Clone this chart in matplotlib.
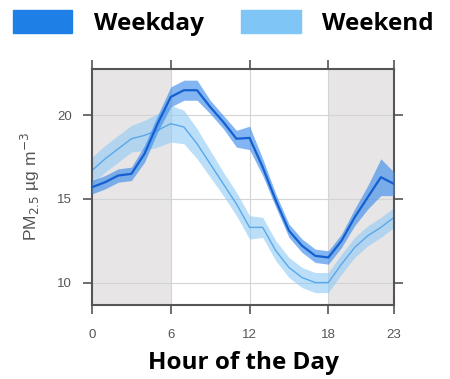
import numpy as np
import matplotlib.pyplot as plt
from matplotlib.patches import Patch

# hourly PM2.5 means (ug m-3)
hours = np.arange(24)
weekday = [15.7, 16.0, 16.4, 16.5, 17.7, 19.5, 21.1, 21.5, 21.5, 20.5, 19.6, 18.6,
           18.65, 16.9, 14.9, 13.1, 12.2, 11.6, 11.5, 12.5, 13.9, 15.1, 16.3, 15.9]
weekend = [16.7, 17.4, 18.0, 18.6, 18.8, 19.1, 19.5, 19.3, 18.3, 17.1, 15.9, 14.7,
           13.3, 13.3, 11.9, 10.9, 10.3, 10.0, 10.0, 11.1, 12.1, 12.8, 13.3, 13.9]
# half width of the confidence bands
weekday_ci = [0.4, 0.4, 0.4, 0.4, 0.5, 0.5, 0.6, 0.6, 0.6, 0.4, 0.4, 0.5,
              0.7, 0.5, 0.4, 0.4, 0.4, 0.4, 0.4, 0.4, 0.5, 0.7, 1.1, 0.7]
weekend_ci = [0.8, 0.8, 0.8, 0.8, 0.9, 1.0, 1.1, 1.0, 0.9, 0.8, 0.7, 0.7,
              0.7, 0.6, 0.6, 0.6, 0.6, 0.6, 0.6, 0.6, 0.6, 0.6, 0.6, 0.6]
labels = ['Weekday', 'Weekend']
xticks = [0, 6, 12, 18, 23]
yticks = [10, 15, 20]

wd = np.array(weekday)
we = np.array(weekend)
wd_ci = np.array(weekday_ci)
we_ci = np.array(weekend_ci)

fig = plt.figure(figsize=(4.5, 3.79), dpi=100)
ax = fig.add_axes([0.2044, 0.1953, 0.6712, 0.6227])

ax.axvspan(0, 6, color='#e7e5e5', lw=0, zorder=0)
ax.axvspan(18, 23, color='#e7e5e5', lw=0, zorder=0)
for x in [6, 12, 18]:
    ax.axvline(x, color='#d4d4d4', lw=0.8, zorder=0.5)
for y in yticks:
    ax.axhline(y, color='#d4d4d4', lw=0.8, zorder=0.5)

ax.fill_between(hours, we - we_ci, we + we_ci, color='#8fcaf5', alpha=0.6, lw=0, zorder=1)
ax.plot(hours, we, color='#5aa8ea', lw=1.0, zorder=2)
ax.fill_between(hours, wd - wd_ci, wd + wd_ci, color='#3f8eec', alpha=0.65, lw=0, zorder=3)
ax.plot(hours, wd, color='#1560d0', lw=1.6, zorder=4)

ax.set_xlim(0, 23)
ax.set_ylim(8.66, 22.77)
ax.set_xticks(xticks)
ax.set_yticks(yticks)
ax.tick_params(direction='out', length=6.5, width=1.2, color='#555555',
               labelcolor='#555555', labelsize=9.5, top=True, right=True, pad=8)
ax.tick_params(axis='x', pad=11)
for s in ax.spines.values():
    s.set_color('#555555')
    s.set_linewidth(1.5)
for t in ax.get_xticklabels() + ax.get_yticklabels():
    t.set_family('Liberation Sans')

ax.set_ylabel('PM$_{2.5}$ µg m$^{-3}$', color='#555555', fontsize=12.5,
              family='Liberation Sans', labelpad=11)
ax.set_xlabel('Hour of the Day', fontsize=17.5, fontweight='bold',
              family='Open Sans', labelpad=7)

handles = [Patch(color='#1e80e6'), Patch(color='#7fc5f5')]
fig.legend(handles, labels, loc='upper left', bbox_to_anchor=(13 / 450, 1 - 10 / 379),
           ncol=2, frameon=False,
           prop={'family': 'Open Sans', 'weight': 'bold', 'size': 17.5},
           handlelength=2.43, handleheight=1.07, handletextpad=0.9, columnspacing=1.55,
           borderaxespad=0, borderpad=0)

fig.savefig('out.png', dpi=100)
